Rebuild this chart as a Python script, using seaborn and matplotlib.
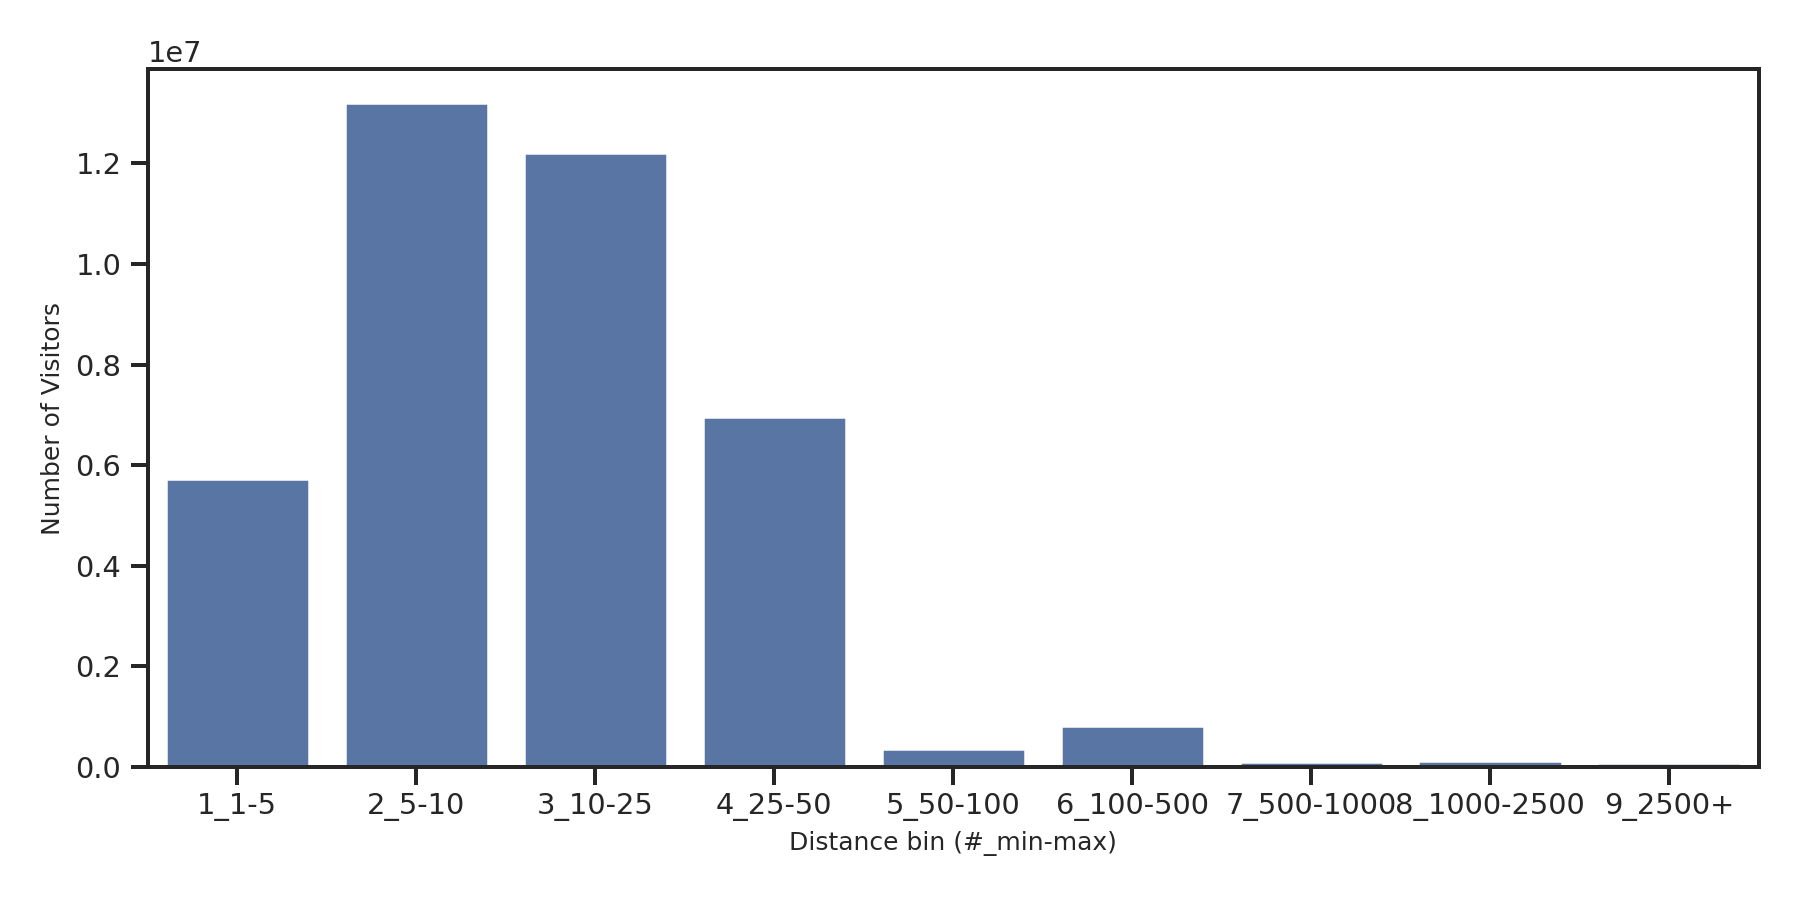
import seaborn as sns
import pandas as pd
import matplotlib.pyplot as plt

bins = ['1_1-5', '2_5-10', '3_10-25', '4_25-50', '5_50-100',
        '6_100-500', '7_500-1000', '8_1000-2500', '9_2500+']
visitors = [5.72e6, 1.321e7, 1.221e7, 6.95e6, 3.6e5, 8.2e5, 1.0e5, 1.2e5, 8.0e4]

df = pd.DataFrame({'distance_bin': bins, 'visitors': visitors})

sns.set_theme(style='ticks', context='notebook', font_scale=1.05,
              rc={'axes.linewidth': 1.6,
                  'xtick.major.width': 1.6, 'ytick.major.width': 1.6,
                  'xtick.major.size': 7, 'ytick.major.size': 7})

## bar plot of visitors per distance bin
fig, ax = plt.subplots(figsize=(10, 5), dpi=180)
sns.barplot(x='distance_bin', y='visitors', data=df, ax=ax)
ax.set_xlabel('Distance bin (#_min-max)', fontsize=10)
ax.set_ylabel('Number of Visitors', fontsize=10)
plt.subplots_adjust(left=0.082, right=0.977, top=0.923, bottom=0.148)
plt.savefig('out.png')
